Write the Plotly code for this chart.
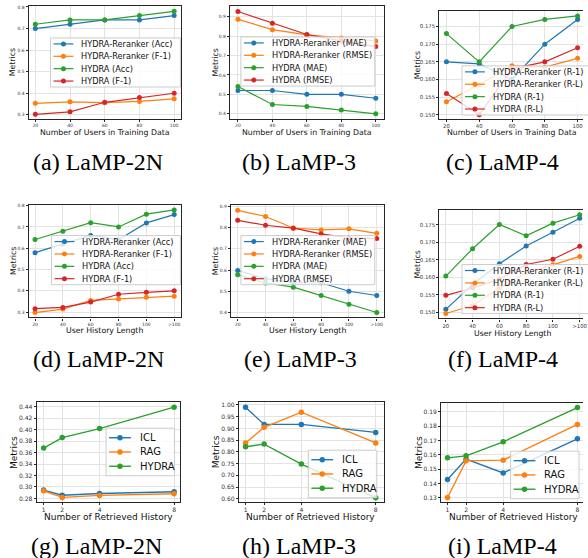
import plotly.graph_objects as go

W, H = 588, 558
COLORS = ['#1f77b4', '#ff7f0e', '#2ca02c', '#d62728']

# ---------------- data ----------------
users_x = [20, 40, 60, 80, 100]
hist_cats = ['20', '40', '60', '80', '100', '>100']
retr_x = [1, 2, 4, 8]

# (a) LaMP-2N, users
a_names = ['HYDRA-Reranker (Acc)', 'HYDRA-Reranker (F-1)', 'HYDRA (Acc)', 'HYDRA (F-1)']
a_rr_acc = [0.70, 0.72, 0.74, 0.74, 0.76]
a_rr_f1 = [0.353, 0.360, 0.356, 0.362, 0.374]
a_hy_acc = [0.72, 0.74, 0.74, 0.76, 0.78]
a_hy_f1 = [0.302, 0.314, 0.358, 0.380, 0.400]
# (b) LaMP-3, users
b_names = ['HYDRA-Reranker (MAE)', 'HYDRA-Reranker (RMSE)', 'HYDRA (MAE)', 'HYDRA (RMSE)']
b_rr_mae = [0.52, 0.52, 0.50, 0.50, 0.48]
b_rr_rmse = [0.886, 0.833, 0.806, 0.790, 0.775]
b_hy_mae = [0.54, 0.448, 0.438, 0.419, 0.400]
b_hy_rmse = [0.926, 0.866, 0.808, 0.775, 0.746]
# (c) LaMP-4, users
c_names = ['HYDRA-Reranker (R-1)', 'HYDRA-Reranker (R-L)', 'HYDRA (R-1)', 'HYDRA (R-L)']
c_rr_r1 = [0.165, 0.1644, 0.160, 0.170, 0.177]
c_rr_rl = [0.1537, 0.1585, 0.1639, 0.1635, 0.166]
c_hy_r1 = [0.173, 0.165, 0.175, 0.177, 0.178]
c_hy_rl = [0.156, 0.150, 0.163, 0.165, 0.169]
# (d) LaMP-2N, history length
d_rr_acc = [0.579, 0.619, 0.66, 0.64, 0.719, 0.758]
d_rr_f1 = [0.298, 0.314, 0.355, 0.362, 0.370, 0.375]
d_hy_acc = [0.641, 0.68, 0.72, 0.70, 0.76, 0.78]
d_hy_f1 = [0.316, 0.322, 0.347, 0.384, 0.393, 0.400]
# (e) LaMP-3, history length
e_rr_mae = [0.598, 0.559, 0.54, 0.54, 0.50, 0.48]
e_rr_rmse = [0.881, 0.852, 0.798, 0.789, 0.794, 0.773]
e_hy_mae = [0.578, 0.539, 0.519, 0.48, 0.439, 0.40]
e_hy_rmse = [0.834, 0.811, 0.797, 0.770, 0.752, 0.748]
# (f) LaMP-4, history length
f_rr_r1 = [0.1509, 0.158, 0.1639, 0.1690, 0.1729, 0.1769]
f_rr_rl = [0.1497, 0.152, 0.157, 0.1614, 0.1636, 0.166]
f_hy_r1 = [0.1604, 0.1682, 0.1751, 0.1719, 0.1755, 0.1779]
f_hy_rl = [0.1549, 0.157, 0.1595, 0.1637, 0.1652, 0.1689]
# (g)(h)(i) retrieved history
g_names = ['ICL', 'RAG', 'HYDRA']
g_icl = [0.2946, 0.2856, 0.2886, 0.2916]
g_rag = [0.2934, 0.2818, 0.2853, 0.2882]
g_hydra = [0.368, 0.3863, 0.402, 0.4394]
h_icl = [0.990, 0.917, 0.917, 0.883]
h_rag = [0.838, 0.905, 0.969, 0.838]
h_hydra = [0.822, 0.833, 0.748, 0.604]
i_icl = [0.1428, 0.157, 0.1474, 0.1712]
i_rag = [0.1302, 0.1558, 0.1563, 0.1812]
i_hydra = [0.1579, 0.1593, 0.1691, 0.193]

# tick labels
ya_ticks = [0.3, 0.4, 0.5, 0.6, 0.7, 0.8]
yb_ticks = [0.4, 0.5, 0.6, 0.7, 0.8, 0.9]
yc_ticks = [0.150, 0.155, 0.160, 0.165, 0.170, 0.175]
yg_ticks = [0.28, 0.30, 0.32, 0.34, 0.36, 0.38, 0.40, 0.42, 0.44]
yh_ticks = [0.60, 0.65, 0.70, 0.75, 0.80, 0.85, 0.90, 0.95, 1.00]
yi_ticks = [0.13, 0.14, 0.15, 0.16, 0.17, 0.18, 0.19]

captions = ['(a) LaMP-2N', '(b) LaMP-3', '(c) LaMP-4',
            '(d) LaMP-2N', '(e) LaMP-3', '(f) LaMP-4',
            '(g) LaMP-2N', '(h) LaMP-3', '(i) LaMP-4']
xtitle_users = 'Number of Users in Training Data'
xtitle_hist = 'User History Length'
xtitle_retr = 'Number of Retrieved History'

# ---------------- layout helpers ----------------
def PX(x):
    return x / W

def PY(y):
    return 1 - y / H

panels = [
    dict(box=(29, 183, 5, 118), xr=[16.2, 104.2], yr=[0.2815, 0.8046], x=users_x,
         ys=[a_rr_acc, a_rr_f1, a_hy_acc, a_hy_f1], names=a_names, yt=ya_ticks, yf='.1f',
         xt=users_x, tf=4.5, xtitle=xtitle_users, xtitle_pos=(106, 131.5), ytitle_x=13,
         leg=(51, 37, 131), cap=(98.5, 161), cut=False),
    dict(box=(232, 387, 5, 118), xr=[15.4, 104.6], yr=[0.3744, 0.9546], x=users_x,
         ys=[b_rr_mae, b_rr_rmse, b_hy_mae, b_hy_rmse], names=b_names, yt=yb_ticks, yf='.1f',
         xt=users_x, tf=4.5, xtitle=xtitle_users, xtitle_pos=(309.5, 131.5), ytitle_x=217,
         leg=(243, 36, 135), cap=(302, 161), cut=False),
    dict(box=(443, 588, 10, 118), xr=[15.6, 103.3], yr=[0.14887, 0.1794], x=users_x,
         ys=[c_rr_r1, c_rr_rl, c_hy_r1, c_hy_rl], names=c_names, yt=yc_ticks, yf='.3f',
         xt=users_x, tf=5.3, xtitle=xtitle_users, xtitle_pos=(516.5, 131.5), ytitle_x=421,
         leg=(466, 65, 135), cap=(507, 161), cut=True),
    dict(box=(29, 183, 204, 317), xr=[-0.226, 5.26], yr=[0.275, 0.8047], x=hist_cats,
         ys=[d_rr_acc, d_rr_f1, d_hy_acc, d_hy_f1], names=a_names, yt=ya_ticks, yf='.1f',
         xt=None, tf=4.5, xtitle=xtitle_hist, xtitle_pos=(105.5, 330), ytitle_x=13,
         leg=(52, 235, 130), cap=(99, 359), cut=False),
    dict(box=(233, 387, 204, 317), xr=[-0.24, 5.25], yr=[0.3766, 0.908], x=hist_cats,
         ys=[e_rr_mae, e_rr_rmse, e_hy_mae, e_hy_rmse], names=b_names, yt=yb_ticks, yf='.1f',
         xt=None, tf=4.5, xtitle=xtitle_hist, xtitle_pos=(310, 330), ytitle_x=217,
         leg=(243, 235, 135), cap=(303, 359), cut=False),
    dict(box=(443, 588, 209, 318), xr=[-0.247, 5.123], yr=[0.1483, 0.17936], x=hist_cats,
         ys=[f_rr_r1, f_rr_rl, f_hy_r1, f_hy_rl], names=c_names, yt=yc_ticks, yf='.3f',
         xt=None, tf=5.3, xtitle=xtitle_hist, xtitle_pos=(517, 333), ytitle_x=421,
         leg=(466, 264, 135), cap=(507, 359), cut=True),
    dict(box=(37, 182, 402, 502), xr=[0.628, 8.34], yr=[0.2736, 0.448], x=retr_x,
         ys=[g_icl, g_rag, g_hydra], names=g_names, yt=yg_ticks, yf='.2f',
         xt=retr_x, tf=6.0, xtitle=xtitle_retr, xtitle_pos=(109.5, 517), ytitle_x=14,
         leg=(107, 428, 69), cap=(97.5, 546), cut=False),
    dict(box=(241, 387, 402, 502), xr=[0.645, 8.43], yr=[0.5858, 1.0114], x=retr_x,
         ys=[h_icl, h_rag, h_hydra], names=g_names, yt=yh_ticks, yf='.2f',
         xt=retr_x, tf=6.0, xtitle=xtitle_retr, xtitle_pos=(313.5, 517), ytitle_x=218,
         leg=(311, 450, 69), cap=(302, 546), cut=False),
    dict(box=(445, 588, 403, 502), xr=[0.661, 8.3], yr=[0.127, 0.196], x=retr_x,
         ys=[i_icl, i_rag, i_hydra], names=g_names, yt=yi_ticks, yf='.2f',
         xt=retr_x, tf=6.0, xtitle=xtitle_retr, xtitle_pos=(517.5, 517), ytitle_x=422,
         leg=(515, 451, 69), cap=(507, 546), cut=True),
]

fig = go.Figure()
layout = dict(width=W, height=H, margin=dict(l=0, r=0, t=0, b=0),
              paper_bgcolor='white', plot_bgcolor='white', showlegend=False,
              font=dict(family='DejaVu Sans', color='#222'))
shapes = []
annotations = []

for k, p in enumerate(panels):
    idx = k + 1
    xa = 'xaxis' if idx == 1 else f'xaxis{idx}'
    ya = 'yaxis' if idx == 1 else f'yaxis{idx}'
    xr_ = 'x' if idx == 1 else f'x{idx}'
    yr_ = 'y' if idx == 1 else f'y{idx}'
    x0, x1, y0, y1 = p['box']
    row3 = k >= 6
    lw = 1.4 if row3 else 1.2
    ms = 5.5 if row3 else 5
    for j, (yv, nm) in enumerate(zip(p['ys'], p['names'])):
        fig.add_trace(go.Scatter(x=p['x'], y=yv, name=nm, mode='lines+markers',
                                 xaxis=xr_, yaxis=yr_, cliponaxis=False,
                                 line=dict(color=COLORS[j], width=lw),
                                 marker=dict(color=COLORS[j], size=ms, symbol='circle')))
    common = dict(showgrid=True, gridcolor='#e3e3e3', gridwidth=1, zeroline=False,
                  showline=True, mirror=True, linecolor='#262626', linewidth=1.3,
                  ticks='outside', ticklen=2, tickwidth=0.8, tickcolor='#262626',
                  tickfont=dict(size=p['tf'], color='#333'))
    xaxis = dict(common, domain=[PX(x0), PX(x1)], range=p['xr'], anchor=yr_)
    if p['xt'] is None:
        xaxis.update(type='category', categoryorder='array', categoryarray=hist_cats)
    else:
        xaxis.update(type='linear', tickvals=p['xt'], ticktext=[str(v) for v in p['xt']])
    yaxis = dict(common, domain=[PY(y1), PY(y0)], range=p['yr'], anchor=xr_,
                 tickvals=p['yt'], ticktext=[format(v, p['yf']) for v in p['yt']])
    if p['cut']:
        # right spine lies beyond the page edge in the original
        yaxis['mirror'] = False
    layout[xa] = xaxis
    layout[ya] = yaxis

    tsize = 9.0 if row3 else 7.8
    annotations.append(dict(text=p['xtitle'], xref='paper', yref='paper',
                            x=PX(p['xtitle_pos'][0]), y=PY(p['xtitle_pos'][1]),
                            xanchor='center', yanchor='middle', showarrow=False,
                            font=dict(size=tsize, color='#111')))
    annotations.append(dict(text='Metrics', xref='paper', yref='paper',
                            x=PX(p['ytitle_x']), y=PY((y0 + y1) / 2), textangle=-90,
                            xanchor='center', yanchor='middle', showarrow=False,
                            font=dict(size=tsize, color='#111')))
    annotations.append(dict(text=captions[k], xref='paper', yref='paper',
                            x=PX(p['cap'][0]), y=PY(p['cap'][1]),
                            xanchor='center', yanchor='middle', showarrow=False,
                            font=dict(size=24, family='Liberation Serif', color='black')))

    # legend box (drawn manually for compact matplotlib-like spacing)
    lx, ly, lwid = p['leg']
    n = len(p['names'])
    if row3:
        first, step, hx0, hx1, tx, lfont = 9.5, 14.3, 3, 25, 32, 10.0
    else:
        first, step, hx0, hx1, tx, lfont = 6.0, 12.4, 3, 23, 29, 8.2
    lh = first * 2 + step * (n - 1)
    shapes.append(dict(type='rect', xref='paper', yref='paper', layer='above',
                       x0=PX(lx), x1=PX(lx + lwid), y0=PY(ly + lh), y1=PY(ly),
                       fillcolor='rgba(255,255,255,0.8)', line=dict(color='#cccccc', width=1)))
    for j, nm in enumerate(p['names']):
        iy = ly + first + j * step
        shapes.append(dict(type='line', xref='paper', yref='paper', layer='above',
                           x0=PX(lx + hx0), x1=PX(lx + hx1), y0=PY(iy), y1=PY(iy),
                           line=dict(color=COLORS[j], width=lw)))
        cx = lx + (hx0 + hx1) / 2
        r = ms / 2
        shapes.append(dict(type='circle', xref='paper', yref='paper', layer='above',
                           xsizemode='pixel', ysizemode='pixel',
                           xanchor=PX(cx), yanchor=PY(iy), x0=-r, x1=r, y0=-r, y1=r,
                           fillcolor=COLORS[j], line=dict(color=COLORS[j], width=0)))
        annotations.append(dict(text=nm, xref='paper', yref='paper',
                                x=PX(lx + tx), y=PY(iy), xanchor='left', yanchor='middle',
                                showarrow=False, font=dict(size=lfont, color='#111')))

layout['shapes'] = shapes
layout['annotations'] = annotations
fig.update_layout(**layout)
fig.write_html('out.html', config={'displayModeBar': False},
               post_script="document.body.style.margin='0';document.body.style.padding='0';")
